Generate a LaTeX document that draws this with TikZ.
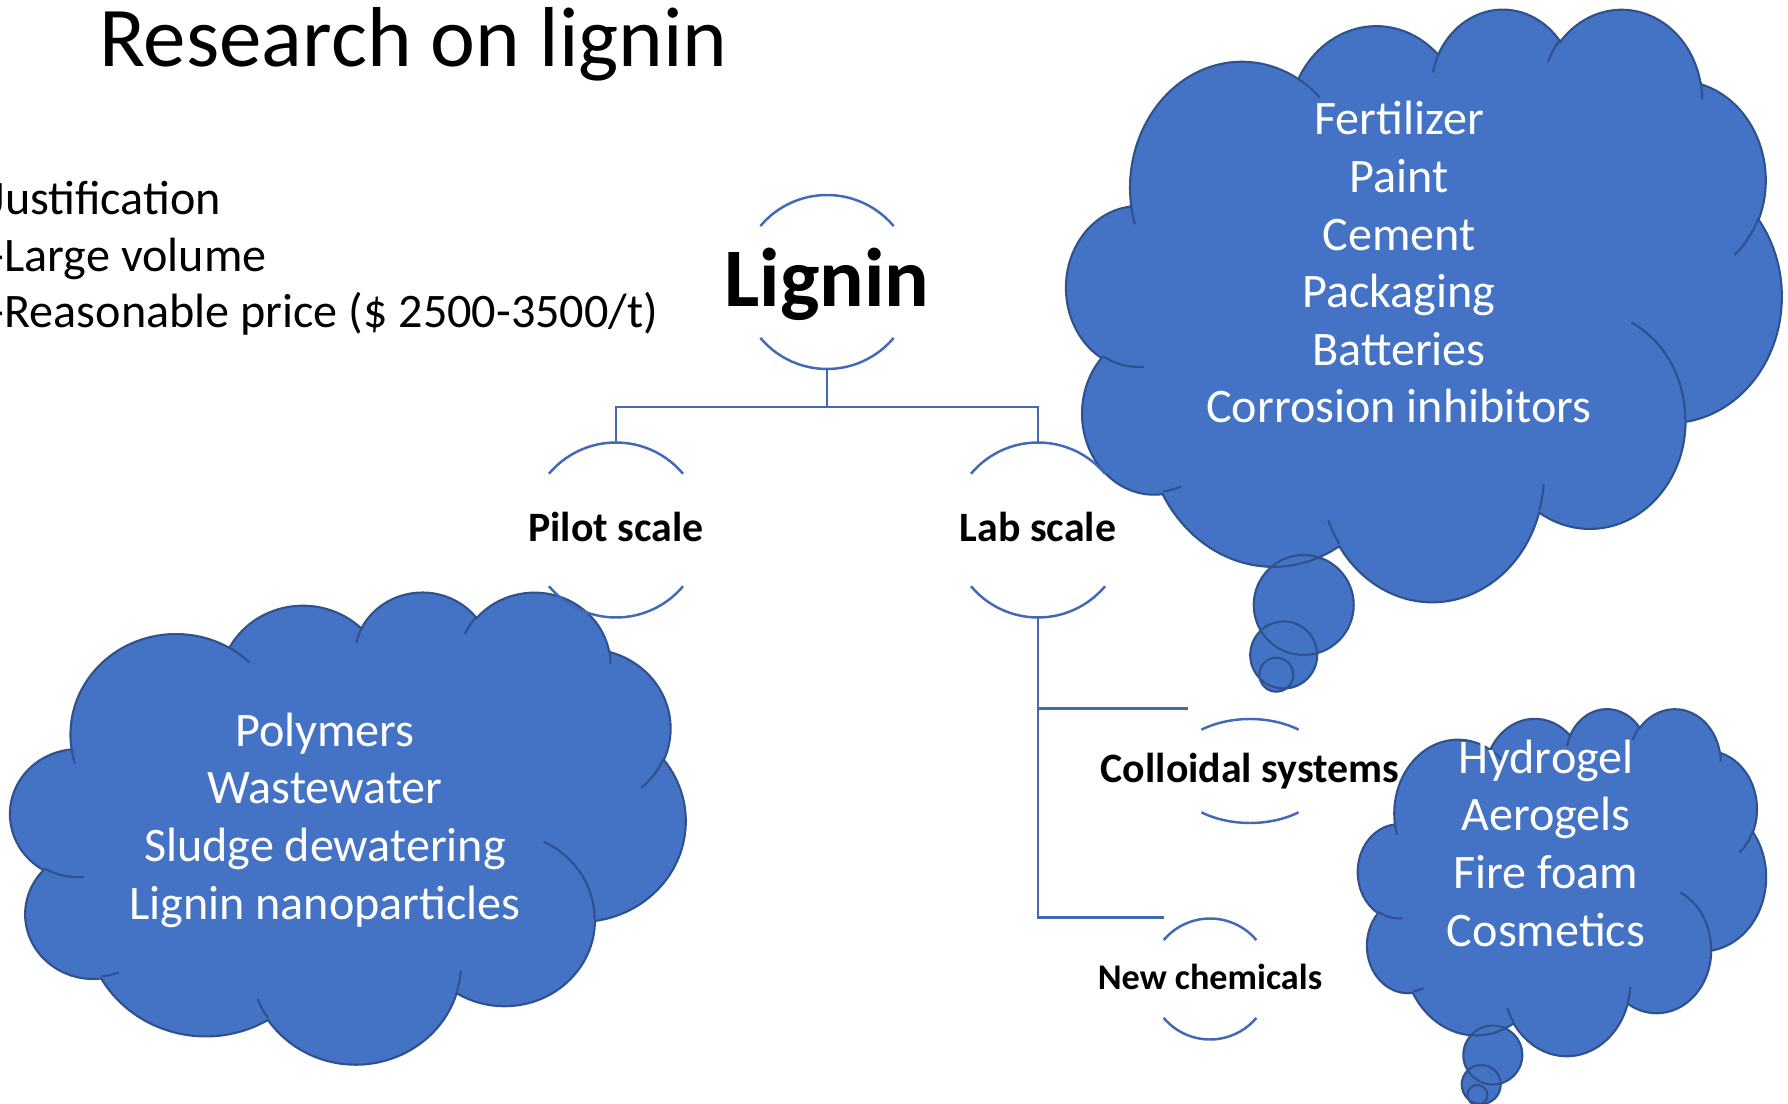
\documentclass[tikz,border=0pt]{standalone}
\usepackage{fontspec}
\setmainfont{Carlito}
\usetikzlibrary{shapes.geometric}

\definecolor{cloudblue}{HTML}{4472C4}
\definecolor{cloudedge}{HTML}{2F528F}
\definecolor{linkblue}{HTML}{4169B8}

% one arcTo of the office cloud: wR, hR, start angle, sweep (degrees)
\newcommand\ooarc[4]{%
  \pgfextra{%
    \pgfmathsetmacro\tmpa{atan2(#1*sin(#3),#2*cos(#3))}%
    \pgfmathsetmacro\tmpa{\tmpa+360*round(((#3)-(\tmpa))/360)}%
    \pgfmathsetmacro\tmpb{atan2(#1*sin((#3)+(#4)),#2*cos((#3)+(#4)))}%
    \pgfmathsetmacro\tmpb{\tmpb+360*round(((#3)+(#4)-(\tmpb))/360)}%
    \global\let\arcS\tmpa\global\let\arcE\tmpb}%
  arc[start angle=\arcS, end angle=\arcE, x radius=#1, y radius=#2]}

% cloud outline in a 43.2 x 43.2 box
\newcommand\cloudpath{(3.9,14.37)
  \ooarc{6.753}{9.19}{-190.4875}{123.7805}
  \ooarc{5.333}{7.267}{-144.1024}{89.9452}
  \ooarc{4.365}{5.945}{-145.8079}{99.7230}
  \ooarc{4.857}{6.595}{-130.9861}{117.2417}
  \ooarc{5.333}{7.273}{-78.7089}{109.0269}
  \ooarc{6.775}{9.22}{-46.2673}{130.2690}
  \ooarc{5.785}{7.867}{0.6250}{114.0333}
  \ooarc{6.752}{9.215}{22.4516}{115.1726}
  \ooarc{7.72}{10.543}{66.2426}{75.7110}
  \ooarc{4.36}{5.918}{-274.9421}{146.7356}
  \ooarc{4.345}{5.945}{-246.8285}{152.5189} -- cycle}

% the short inner lines of the cloud
\newcommand\cloudcreases{(4.693,26.177) \ooarc{4.345}{5.945}{86.742}{26.4295}
  (6.928,34.899) \ooarc{4.36}{5.918}{73.6105}{11.4475}
  (16.478,39.09) \ooarc{6.752}{9.215}{137.6242}{14.0811}
  (28.827,34.751) \ooarc{6.752}{9.215}{6.4533}{15.9984}
  (34.129,22.954) \ooarc{5.785}{7.867}{-70.2924}{70.9174}
  (41.798,15.354) \ooarc{5.333}{7.273}{30.318}{27.7515}
  (38.324,5.426) \ooarc{4.857}{6.595}{-13.7443}{14.8589}
  (29.078,3.952) \ooarc{4.857}{6.595}{-149.1815}{18.1954}
  (22.141,4.72) \ooarc{4.365}{5.945}{-163.4943}{17.6864}
  (14,5.192) \ooarc{6.753}{9.19}{-66.707}{12.3194}
  (4.127,15.789) \ooarc{6.753}{9.19}{157.6544}{11.8582}}

% upper and lower arc round a node
\newcommand\ringarcs[4]{%
  \draw[ring] (#1.center) ++(#4:#2 and #3)
    arc[start angle=#4, end angle=180-#4, x radius=#2, y radius=#3]
    (#1.center) ++(180+#4:#2 and #3)
    arc[start angle=180+#4, end angle=360-#4, x radius=#2, y radius=#3];}

\tikzset{
  cloudbox/.style n args={4}{shift={(#1,#2)}, xscale=#3/43.2, yscale=-#4/43.2},
  cloudline/.style={draw=cloudedge, line width=0.6pt},
  cloudtext/.style={text=white, align=center, anchor=base,
    font=\fontsize{13.7}{16.4}\selectfont},
  hub/.style={circle, inner sep=0pt, minimum size=#1, text height=6.7pt,
    text depth=0pt, font=\bfseries\fontsize{11.9}{14}\selectfont},
  ring/.style={draw=linkblue, line width=0.7pt},
  link/.style={draw=linkblue, line width=0.8pt},
}

\begin{document}
\begin{tikzpicture}
  \useasboundingbox (0,0) rectangle (17.88,-11.04);

  % clouds
  \begin{scope}[cloudbox={10.665}{-0.077}{7.15}{5.925}]
    \fill[cloudblue] \cloudpath;
  \end{scope}
  \begin{scope}[cloudbox={13.58}{-7.08}{4.08}{3.47}]
    \fill[cloudblue] \cloudpath;
  \end{scope}
  \begin{scope}[cloudbox={0.105}{-5.91}{6.75}{4.72}]
    \fill[cloudblue] \cloudpath;
  \end{scope}
  \fill[cloudblue] (13.037,-6.05) circle[radius=0.50]
    (12.837,-6.55) circle[radius=0.335] (12.763,-6.747) circle[radius=0.17];
  \fill[cloudblue] (14.928,-10.55) circle[radius=0.295]
    (14.812,-10.845) circle[radius=0.195] (14.773,-10.95) circle[radius=0.10];

  \begin{scope}[cloudbox={10.665}{-0.077}{7.15}{5.925}]
    \draw[cloudline] \cloudpath;
    \draw[cloudline] \cloudcreases;
  \end{scope}
  \begin{scope}[cloudbox={13.58}{-7.08}{4.08}{3.47}]
    \draw[cloudline] \cloudpath;
    \draw[cloudline] \cloudcreases;
  \end{scope}
  \begin{scope}[cloudbox={0.105}{-5.91}{6.75}{4.72}]
    \draw[cloudline] \cloudpath;
    \draw[cloudline] \cloudcreases;
  \end{scope}
  \draw[cloudline] (13.037,-6.05) circle[radius=0.50]
    (12.837,-6.55) circle[radius=0.335] (12.763,-6.747) circle[radius=0.17];
  \draw[cloudline] (14.928,-10.55) circle[radius=0.295]
    (14.812,-10.845) circle[radius=0.195] (14.773,-10.95) circle[radius=0.10];

  % base anchor sits on the last line
  \node[cloudtext] (uses) at (13.99,-4.23)
    {Fertilizer\\Paint\\Cement\\Packaging\\Batteries\\Corrosion inhibitors};
  \node[cloudtext] (pilotuses) at (3.25,-9.19)
    {Polymers\\Wastewater\\Sludge dewatering\\Lignin nanoparticles};
  \node[cloudtext] (colloiduses) at (15.46,-9.46)
    {Hydrogel\\Aerogels\\Fire foam\\Cosmetics};

  % texts
  \node[anchor=base west, inner sep=0pt, font=\fontsize{24.2}{29}\selectfont] (title)
    at (0.985,-0.67) {Research on lignin};
  \node[anchor=base west, inner sep=0pt, align=left,
    font=\fontsize{13.7}{16.2}\selectfont] (notes)
    at (-0.11,-3.28) {Justification\\-Large volume\\-Reasonable price (\$ 2500-3500/t)};

  % hierarchy
  \node[hub=1.74cm, text height=14pt, font=\bfseries\fontsize{23.7}{28}\selectfont]
    (lignin) at (8.27,-2.82) {\makebox[0pt]{Lignin}};
  \node[hub=1.75cm] (pilot) at (6.16,-5.30) {\makebox[0pt]{Pilot scale}};
  \node[hub=1.75cm] (lab) at (10.38,-5.30) {\makebox[0pt]{Lab scale}};
  \node[hub=1cm, ellipse, minimum width=1.6cm, minimum height=1.04cm,
    text height=6.3pt] (colloid) at (12.50,-7.71) {\makebox[0pt]{Colloidal systems}};
  \node[hub=1.21cm, text height=6pt, font=\bfseries\fontsize{10.3}{12}\selectfont]
    (newchem) at (12.10,-9.79) {\makebox[0pt]{New chemicals}};

  \ringarcs{lignin}{0.87}{0.87}{40}
  \ringarcs{pilot}{0.875}{0.875}{40}
  \ringarcs{lab}{0.875}{0.875}{40}
  \ringarcs{colloid}{0.80}{0.52}{52.6}
  \ringarcs{newchem}{0.605}{0.605}{40}

  \coordinate (fork) at (8.27,-4.07);
  \draw[link] (lignin.south) -- (fork) -| (pilot.north);
  \draw[link] (fork) -| (lab.north);
  \draw[link] (lab.south) |- ([shift={(-0.62,0.10)}]colloid.north);
  \draw[link] (lab.south) |- ([xshift=-0.46cm]newchem.north);
\end{tikzpicture}
\end{document}
